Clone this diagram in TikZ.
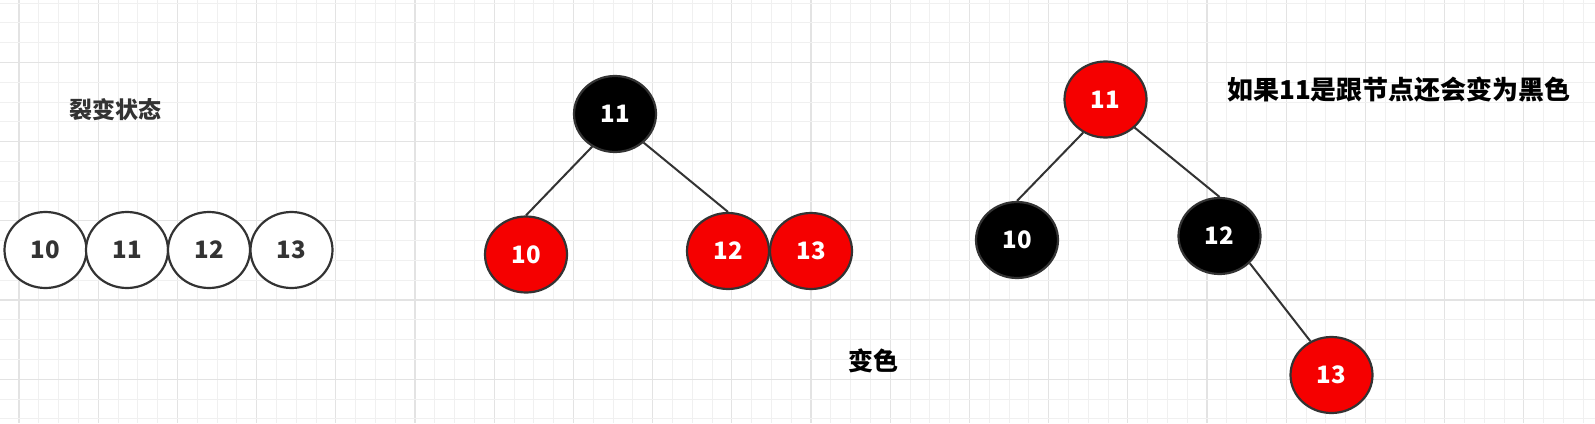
\documentclass[tikz,border=0pt]{standalone}
\usepackage{fontspec}
\setmainfont{Noto Sans CJK SC}
\usetikzlibrary{shapes.geometric}
\definecolor{gridfine}{HTML}{F0F0F0}
\definecolor{gridmajor}{HTML}{E3E3E3}
\definecolor{inkgray}{HTML}{333333}
\definecolor{rbred}{HTML}{F50000}
\tikzset{
  rbnode/.style={ellipse, draw=inkgray, line width=2.2pt, minimum width=82pt, minimum height=76pt, inner sep=0pt, font=\fontsize{24}{24}\selectfont\bfseries},
  plainnode/.style={rbnode, fill=white, text=inkgray},
  rednode/.style={rbnode, fill=rbred, text=white},
  blacknode/.style={rbnode, fill=black, text=white},
  edge/.style={draw=inkgray, line width=2pt},
  label/.style={inner sep=0pt, font=\bfseries}
}
\begin{document}
\begin{tikzpicture}[x=1pt,y=-1pt]
\useasboundingbox (0,0) rectangle (1595,423);
\fill[white] (0,0) rectangle (1595,423);
% grid
\foreach \i in {0,...,80}{
  \pgfmathsetmacro{\gx}{19+19.8*\i}
  \pgfmathtruncatemacro{\m}{mod(\i,4)}
  \ifnum\m=0
    \draw[gridmajor, line width=1.1pt] (\gx,0) -- (\gx,423);
  \else
    \draw[gridfine, line width=0.8pt] (\gx,0) -- (\gx,423);
  \fi
}
\foreach \j in {0,...,21}{
  \pgfmathsetmacro{\gy}{3+19.8*\j}
  \pgfmathtruncatemacro{\m}{mod(\j,4)}
  \ifnum\m=3
    \draw[gridmajor, line width=1.1pt] (0,\gy) -- (1595,\gy);
  \else
    \draw[gridfine, line width=0.8pt] (0,\gy) -- (1595,\gy);
  \fi
}
% left: split state
\node[label, text=inkgray, font=\fontsize{23}{23}\selectfont\bfseries] (tsplit) at (115,110) {裂变状态};
\node[plainnode] (a10) at (45.5,250) {10};
\node[plainnode] (a11) at (127,250) {11};
\node[plainnode] (a12) at (209,250) {12};
\node[plainnode] (a13) at (291.5,250) {13};
% middle tree
\node[blacknode] (b11) at (615,114) {11};
\node[rednode] (b10) at (526,254.5) {10};
\node[rednode] (b12) at (728,251) {12};
\node[rednode] (b13) at (811,251) {13};
\draw[edge] (b11.235) -- (b10.north);
\draw[edge] (b11.-45) -- (b12.north);
\node[label, text=black, font=\fontsize{25}{25}\selectfont\bfseries] (trecolor) at (873,361) {变色};
% right tree
\node[rednode] (c11) at (1105.5,99.5) {11};
\node[blacknode] (c10) at (1017,240) {10};
\node[blacknode] (c12) at (1219.5,236) {12};
\node[rednode] (c13) at (1331.5,375) {13};
\draw[edge] (c11.236) -- (c10.north);
\draw[edge] (c11.-44) -- (c12.north);
\draw[edge] (c12.-42) -- (c13.122);
\node[label, text=black, font=\fontsize{26}{26}\selectfont\bfseries] (troot) at (1399,90) {如果11是跟节点还会变为黑色};
\end{tikzpicture}
\end{document}
